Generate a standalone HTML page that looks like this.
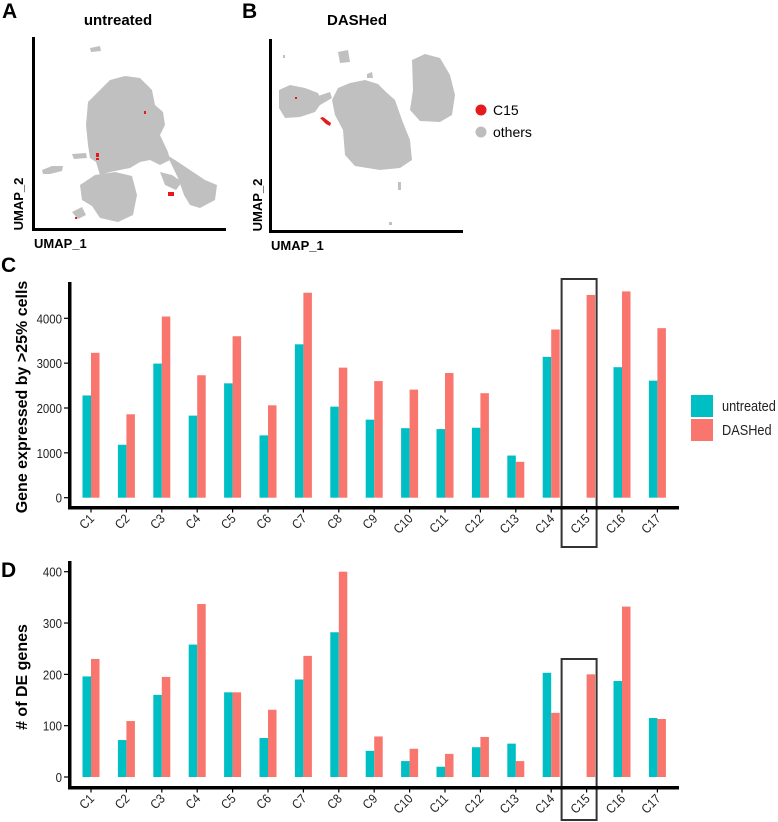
<!DOCTYPE html>
<html><head><meta charset="utf-8"><style>
body{margin:0;background:#fff;}
svg{display:block;font-family:"Liberation Sans",Arial,sans-serif;}
.tick{font-family:"Liberation Sans Narrow","Liberation Sans",sans-serif;font-size:13px;fill:#222;}
</style></head><body>
<svg id="fig" width="778" height="822" viewBox="0 0 778 822">
<text x="2" y="18" font-size="21" font-weight="bold">A</text>
<text x="118" y="25" font-size="15" font-weight="bold" text-anchor="middle">untreated</text>
<g fill="#c0c0c0">
<path d="M90,48 L100,46 L101,51 L91,52 Z"/>
<path d="M88,102 L100,90 L110,80 L125,76 L140,78 L152,90 L155,105 L163,112 L165,125 L160,135 L168,152 L170,160 L160,165 L150,160 L140,162 L130,168 L110,172 L100,175 L96,162 L90,158 L88,145 L86,125 Z"/>
<path d="M80,185 L95,175 L115,172 L132,176 L137,195 L133,215 L118,222 L100,218 L92,206 L82,200 Z"/>
<path d="M72,212 L82,207 L86,215 L78,219 Z"/>
<path d="M167,155 L175,160 L190,170 L205,180 L217,185 L215,200 L200,208 L190,205 L184,195 L178,178 Z"/>
<path d="M160,172 L172,175 L182,182 L176,190 L165,185 Z"/>
<path d="M42,170 L52,166 L63,166 L62,171 L50,174 L43,174 Z"/>
<path d="M72,154 L86,153 L87,158 L74,159 Z"/>
</g>
<g fill="#e41a1c">
<rect x="144" y="111" width="2" height="3"/><rect x="96" y="153" width="3" height="4"/><rect x="96" y="158" width="3" height="2"/>
<rect x="168" y="192" width="6" height="4"/><rect x="75" y="217" width="2" height="2"/>
</g>
<rect x="32" y="37" width="3" height="194" fill="#000"/>
<rect x="32" y="228" width="194" height="3" fill="#000"/>
<text x="34" y="248" font-size="13" font-weight="bold">UMAP_1</text>
<text transform="translate(23,204) rotate(-90)" font-size="13" font-weight="bold" text-anchor="middle">UMAP_2</text>
<text x="242" y="18" font-size="21" font-weight="bold">B</text>
<text x="357" y="25" font-size="15" font-weight="bold" text-anchor="middle">DASHed</text>
<g fill="#c0c0c0">
<path d="M279,90 L290,85 L305,88 L318,93 L322,102 L315,112 L300,117 L285,118 L279,108 Z"/>
<path d="M300,108 L318,96 L330,92 L332,98 L315,108 L305,112 Z"/>
<path d="M338,52 L348,50 L350,62 L340,63 Z"/>
<path d="M338,88 L350,83 L365,80 L378,84 L386,92 L395,100 L402,120 L410,140 L412,160 L400,168 L380,170 L355,166 L345,155 L343,130 L335,115 L332,100 Z"/>
<path d="M412,60 L425,54 L440,58 L450,75 L455,95 L452,115 L440,122 L420,121 L410,110 L413,90 Z"/>
<path d="M367,74 L372,72 L373,78 L367,78 Z"/>
<path d="M398,182 L401,182 L401,190 L398,190 Z"/>
<path d="M389,222 L392,222 L392,225 L389,225 Z"/>
<path d="M283,55 L285,55 L285,58 L283,58 Z"/>
</g>
<g fill="#e41a1c">
<path d="M320,118 L323,117 L331,123 L330,126 L326,124 Z"/><rect x="295" y="97" width="2" height="2"/>
</g>
<rect x="269" y="39" width="3" height="194" fill="#000"/>
<rect x="269" y="230" width="194" height="3" fill="#000"/>
<text x="271" y="250" font-size="13" font-weight="bold">UMAP_1</text>
<text transform="translate(262,205) rotate(-90)" font-size="13" font-weight="bold" text-anchor="middle">UMAP_2</text>
<g>
<circle cx="481" cy="110" r="5.5" fill="#e41a1c"/>
<text x="493" y="115" font-size="14">C15</text>
<circle cx="481" cy="132" r="5.5" fill="#bdbdbd"/>
<text x="493" y="137" font-size="14">others</text>
</g>
<text x="1" y="272" font-size="21" font-weight="bold">C</text>
<text x="1" y="577" font-size="21" font-weight="bold">D</text>
<text transform="translate(27,397) rotate(-90)" font-size="16" font-weight="bold" text-anchor="middle">Gene expressed by &gt;25% cells</text>
<text transform="translate(27,677) rotate(-90)" font-size="16" font-weight="bold" text-anchor="middle"># of DE genes</text>
<g>
<rect x="691" y="395" width="22" height="22" fill="#00bfc4"/>
<text transform="translate(722,411) scale(0.85,1)" font-size="15" class="tick" style="font-size:15px">untreated</text>
<rect x="691" y="419" width="22" height="22" fill="#f8766d"/>
<text transform="translate(722,435) scale(0.85,1)" class="tick" style="font-size:15px">DASHed</text>
</g>
<g id="chartC"></g>
<g id="chartD"></g>
</svg>
<script>
const categories = ["C1","C2","C3","C4","C5","C6","C7","C8","C9","C10","C11","C12","C13","C14","C15","C16","C17"];
const genesUntreated = [2280,1180,2990,1830,2550,1390,3420,2030,1740,1550,1530,1560,940,3140,0,2910,2610];
const genesDashed = [3230,1860,4040,2730,3600,2060,4570,2900,2600,2410,2780,2330,800,3750,4520,4600,3780];
const genesTicks = [0,1000,2000,3000,4000];
const deUntreated = [196,72,160,258,165,76,190,282,51,31,20,58,65,203,0,187,115];
const deDashed = [230,109,195,337,165,131,236,400,79,55,45,78,31,125,200,332,113];
const deTicks = [0,100,200,300,400];
const highlightCategory = "C15";

const NS = "http://www.w3.org/2000/svg";
function mk(tag, attrs, parent){const e=document.createElementNS(NS,tag);for(const k in attrs)e.setAttribute(k,attrs[k]);parent.appendChild(e);return e;}
const xPos = i => 91 + i*35.4;
const BW = 8.5;

function drawChart(gid, uVals, dVals, ticks, y0, yPerUnit, axisTop, axisY, boxTop, boxBottom){
  const g = document.getElementById(gid);
  const y = v => y0 - v*yPerUnit;
  categories.forEach((c,i)=>{
    const cx = xPos(i);
    if(uVals[i]>0){
      const r1 = mk("rect",{x:cx-BW,y:y(uVals[i]),width:BW,height:y0-y(uVals[i]),fill:"#00bfc4"},g);
      
      
    }
    const r2 = mk("rect",{x:cx,y:y(dVals[i]),width:BW,height:y0-y(dVals[i]),fill:"#f8766d"},g);
    
    
    const tk = mk("line",{x1:cx,x2:cx,y1:axisY,y2:axisY+5,stroke:"#000","stroke-width":1.2},g);
    
    
    const lb = mk("text",{class:"tick","text-anchor":"end",transform:`translate(${cx+4},${axisY+12}) rotate(-45) scale(0.88,1)`},g);
    lb.textContent = c;
    
    
    if(c===highlightCategory){
      const bx = mk("rect",{x:cx-25,y:boxTop,width:35,height:boxBottom-boxTop,fill:"none",stroke:"#333","stroke-width":2},g);
      
      
    }
  });
  ticks.forEach(t=>{
    const tl = mk("text",{class:"tick","text-anchor":"end",transform:`translate(62,${y(t)+5}) scale(0.88,1)`},g);
    tl.textContent = t;
    
    
    const tm = mk("line",{x1:64,x2:69,y1:y(t),y2:y(t),stroke:"#000","stroke-width":1.2},g);
    
    
  });
  const ya = mk("rect",{x:68,y:axisTop,width:3.5,height:axisY-axisTop+2,fill:"#000"},g);
  
  
  const xa = mk("rect",{x:68,y:axisY-1.5,width:611,height:3.5,fill:"#000"},g);
  
  
}
drawChart("chartC", genesUntreated, genesDashed, genesTicks, 497.7, (497.7-318.3)/4000, 282, 507.5, 279, 547);
drawChart("chartD", deUntreated, deDashed, deTicks, 777, (777-571.7)/400, 561, 787.5, 659, 820);
</script>
</body></html>
